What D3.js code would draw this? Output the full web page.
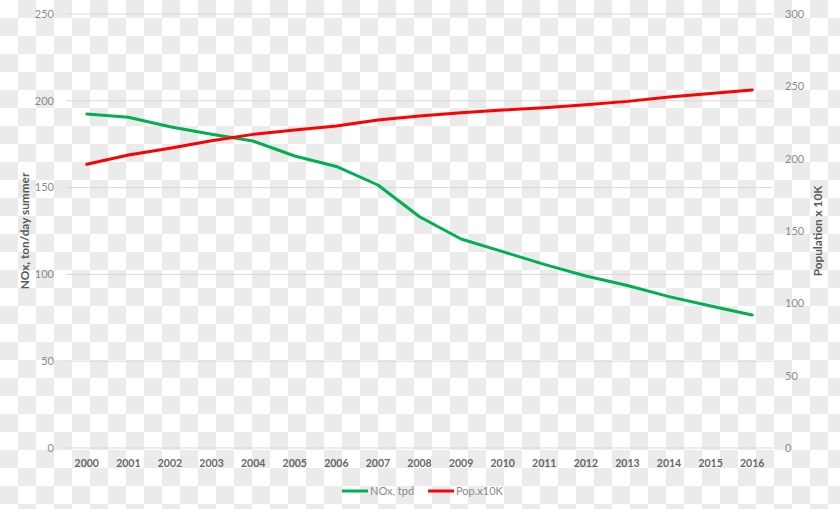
<!DOCTYPE html>
<html>
<head>
<meta charset="utf-8">
<script src="https://cdn.jsdelivr.net/npm/d3@7"></script>
<style>
  body { margin: 0; }
  svg { display: block; font-family: Lato, "Open Sans", sans-serif; }
</style>
</head>
<body>
<script>
const width = 840,
    height = 509;

// data
const years = ['2000', '2001', '2002', '2003', '2004', '2005', '2006', '2007', '2008',
    '2009', '2010', '2011', '2012', '2013', '2014', '2015', '2016'];
const noxValues = [192.4, 190.5, 185.1, 180.7, 176.8, 168.2, 162.2, 151.5, 133.2,
    120.4, 113.1, 105.8, 99.1, 93.6, 87.2, 81.8, 76.6];
const popValues = [196.1, 202.5, 207.2, 212.4, 216.8, 219.8, 222.6, 226.7, 229.5,
    231.8, 233.6, 235.2, 237.3, 239.6, 242.6, 245.0, 247.5];
const leftTicks = [0, 50, 100, 150, 200, 250];
const rightTicks = [0, 50, 100, 150, 200, 250, 300];
const seriesNames = ['NOx, tpd', 'Pop.x10K'];

const margin = {top: 14, right: 67, bottom: 61, left: 66};
const innerW = width - margin.left - margin.right,
    innerH = height - margin.top - margin.bottom;

const x = d3.scalePoint().domain(years).range([0, innerW]).padding(0.5);
const yLeft = d3.scaleLinear().domain([0, 250]).range([innerH, 0]);
const yRight = d3.scaleLinear().domain([0, 300]).range([innerH, 0]);

const svg = d3.select('body').append('svg')
    .attr('width', width)
    .attr('height', height);

// checkerboard background (transparent-image look)
const pat = svg.append('defs').append('pattern')
    .attr('id', 'checker')
    .attr('width', 36).attr('height', 36)
    .attr('patternUnits', 'userSpaceOnUse');
pat.append('rect').attr('width', 36).attr('height', 36).attr('fill', '#ffffff');
pat.append('rect').attr('x', 18).attr('width', 18).attr('height', 18).attr('fill', '#ebebeb');
pat.append('rect').attr('y', 18).attr('width', 18).attr('height', 18).attr('fill', '#ebebeb');
svg.append('rect').attr('width', width).attr('height', height).attr('fill', 'url(#checker)');

const g = svg.append('g').attr('transform', `translate(${margin.left},${margin.top})`);

// gridlines
g.append('g').selectAll('line')
    .data(leftTicks)
    .join('line')
    .attr('x1', 0).attr('x2', innerW)
    .attr('y1', d => yLeft(d)).attr('y2', d => yLeft(d))
    .attr('stroke', '#d9d9d9')
    .attr('stroke-width', 1);

// left axis labels
g.append('g').selectAll('text')
    .data(leftTicks)
    .join('text')
    .attr('x', -12)
    .attr('y', d => yLeft(d))
    .attr('dy', '0.35em')
    .attr('text-anchor', 'end')
    .attr('font-size', 11)
    .attr('fill', '#8a8a8a')
    .text(d => d);

// right axis labels
g.append('g').selectAll('text')
    .data(rightTicks)
    .join('text')
    .attr('x', innerW + 12)
    .attr('y', d => yRight(d))
    .attr('dy', '0.35em')
    .attr('text-anchor', 'start')
    .attr('font-size', 11)
    .attr('fill', '#8a8a8a')
    .text(d => d);

// x axis labels
g.append('g').selectAll('text')
    .data(years)
    .join('text')
    .attr('x', d => x(d))
    .attr('y', innerH + 15)
    .attr('dy', '0.35em')
    .attr('text-anchor', 'middle')
    .attr('font-size', 10.5)
    .attr('font-weight', 'bold')
    .attr('fill', '#666666')
    .text(d => d);

// axis titles
svg.append('text')
    .attr('transform', `translate(29,${margin.top + innerH / 2}) rotate(-90)`)
    .attr('text-anchor', 'middle')
    .attr('font-size', 11.8)
    .attr('font-weight', 'bold')
    .attr('fill', '#595959')
    .text('NOx, ton/day summer');

svg.append('text')
    .attr('transform', `translate(822,${margin.top + innerH / 2}) rotate(-90)`)
    .attr('text-anchor', 'middle')
    .attr('font-size', 11.8)
    .attr('font-weight', 'bold')
    .attr('fill', '#595959')
    .text('Population x 10K');

// lines
const lineLeft = d3.line()
    .x((d, i) => x(years[i]))
    .y(d => yLeft(d));
const lineRight = d3.line()
    .x((d, i) => x(years[i]))
    .y(d => yRight(d));

g.append('path')
    .datum(noxValues)
    .attr('fill', 'none')
    .attr('stroke', '#00b050')
    .attr('stroke-width', 3)
    .attr('stroke-linejoin', 'round')
    .attr('stroke-linecap', 'round')
    .attr('d', lineLeft);

g.append('path')
    .datum(popValues)
    .attr('fill', 'none')
    .attr('stroke', '#ff0000')
    .attr('stroke-width', 3)
    .attr('stroke-linejoin', 'round')
    .attr('stroke-linecap', 'round')
    .attr('d', lineRight);

// legend
const legendColors = ['#00b050', '#ff0000'];
const legendX = [342, 428];
const legend = svg.append('g').selectAll('g')
    .data(seriesNames)
    .join('g')
    .attr('transform', (d, i) => `translate(${legendX[i]},491)`);

legend.append('line')
    .attr('x1', 0).attr('x2', 26)
    .attr('stroke', (d, i) => legendColors[i])
    .attr('stroke-width', 3);

legend.append('text')
    .attr('x', 28)
    .attr('dy', '0.35em')
    .attr('font-size', 11)
    .attr('fill', '#8a8a8a')
    .text(d => d);
</script>
</body>
</html>
